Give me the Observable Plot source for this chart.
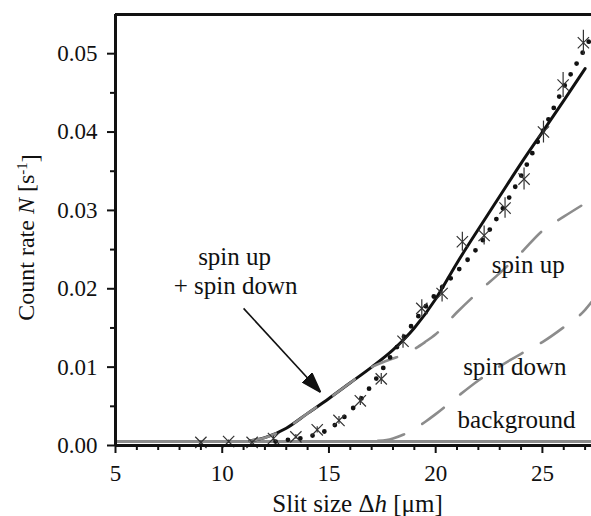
<!DOCTYPE html>
<html>
<head>
<meta charset="utf-8">
<script src="https://cdn.jsdelivr.net/npm/d3@7"></script>
<script src="https://cdn.jsdelivr.net/npm/@observablehq/plot@0.6"></script>
<style>
  html, body { margin: 0; padding: 0; background: #fff; }
  #chart svg { display: block; }
</style>
</head>
<body>
<div id="chart"></div>
<script>
// ---- data ----
// measured count rate (crosses with error bars)
const ptX   = [9.0, 10.3, 11.4, 12.4, 13.45, 14.45, 15.47, 16.47, 17.45, 18.47, 19.35, 20.3, 21.25, 22.27, 23.25, 24.14, 25.05, 25.97, 26.92];
const ptY   = [0.0004, 0.0005, 0.0004, 0.0009, 0.0011, 0.0020, 0.0032, 0.0057, 0.0085, 0.0133, 0.0175, 0.0194, 0.0260, 0.0268, 0.0303, 0.0340, 0.0400, 0.0460, 0.0514];
const ptErr = [0.0002, 0.0002, 0.0002, 0.0003, 0.0003, 0.0004, 0.0005, 0.0006, 0.0007, 0.0009, 0.0011, 0.0011, 0.0012, 0.0012, 0.0013, 0.0014, 0.0014, 0.0016, 0.0016];

// solid black fit: spin up + spin down
const sumX = [11.3, 12, 13, 14, 15, 16, 17, 18, 19, 20, 21, 22, 23, 24, 25, 26, 27];
const sumY = [0.0006, 0.0010, 0.0022, 0.0041, 0.0060, 0.0080, 0.0100, 0.0122, 0.0150, 0.0187, 0.0233, 0.0276, 0.0318, 0.0360, 0.0400, 0.0440, 0.0481];

// gray dashed: spin up
const upX = [11.3, 12, 13, 14, 15, 16, 17, 17.5, 18, 18.5, 19, 19.5, 20, 21, 22, 23, 24, 25, 26, 27, 27.3];
const upY = [0.0006, 0.0010, 0.0022, 0.0041, 0.0060, 0.0080, 0.0100, 0.0106, 0.0111, 0.0116, 0.0123, 0.0132, 0.0142, 0.0170, 0.0196, 0.0220, 0.0246, 0.0274, 0.0292, 0.0309, 0.0314];

// gray dashed: spin down
const downX = [17.3, 17.7, 18, 18.5, 19, 19.5, 20, 21, 22, 23, 24, 25, 26, 27, 27.3];
const downY = [0.0006, 0.0007, 0.0009, 0.0014, 0.0021, 0.0030, 0.0040, 0.0062, 0.0083, 0.0101, 0.0117, 0.0132, 0.0151, 0.0173, 0.0183];

// dotted black curve
const dotX = [12.5, 13, 14, 15, 16, 17, 18, 19, 20, 21, 22, 23, 24, 25, 26, 27, 27.3];
const dotY = [0.0005, 0.0007, 0.0011, 0.0021, 0.0044, 0.0077, 0.0118, 0.0158, 0.0193, 0.0222, 0.0254, 0.0296, 0.0344, 0.0400, 0.0457, 0.0507, 0.0522];

// gray solid: background level
const background = 0.0005;

// axes
const xDomain = [5, 27.3];
const yDomain = [0, 0.055];
const xMajor = [5, 10, 15, 20, 25];
const xMinor = [6, 7, 8, 9, 11, 12, 13, 14, 16, 17, 18, 19, 21, 22, 23, 24, 26, 27];
const yMajor = [0, 0.01, 0.02, 0.03, 0.04, 0.05];
const yMinor = [0.005, 0.015, 0.025, 0.035, 0.045];
const yTickLabels = ["0.00", "0.01", "0.02", "0.03", "0.04", "0.05"];

// annotation labels
const labelText = ["spin up", "+ spin down", "spin up", "spin down", "background"];
const labelX    = [10.58, 10.63, 24.34, 23.71, 23.79];
const labelY    = [0.0241, 0.0203, 0.0230, 0.00996, 0.00323];
// arrow from label to the sum curve
const arrowFrom = [11.0, 0.0175];
const arrowTo   = [14.61, 0.0068];

// ---- build tables ----
const zip = (xs, ys) => xs.map((x, i) => ({x, y: ys[i]}));
const points = ptX.map((x, i) => ({x, y: ptY[i], lo: ptY[i] - ptErr[i], hi: ptY[i] + ptErr[i]}));
const sumRows = zip(sumX, sumY);
const upRows = zip(upX, upY);
const downRows = zip(downX, downY);
const dotRows = zip(dotX, dotY);
const labels = labelText.map((t, i) => ({t, x: labelX[i], y: labelY[i]}));
const arrows = [{x1: arrowFrom[0], y1: arrowFrom[1], x2: arrowTo[0], y2: arrowTo[1]}];

const serif = '"Liberation Serif", "Times New Roman", Times, serif';
const ink = "#111";
const gray = "#8c8c8c";

function arrowHead(color) {
  const m = d3.create("svg:marker")
    .attr("viewBox", "-20 -7 20 14")
    .attr("markerWidth", 20)
    .attr("markerHeight", 14)
    .attr("markerUnits", "userSpaceOnUse")
    .attr("orient", "auto")
    .attr("refX", 0)
    .attr("refY", 0);
  m.append("path").attr("d", "M0,0L-20,-6.5L-20,6.5Z").attr("fill", color);
  return m.node();
}

const plot = Plot.plot({
  width: 591,
  height: 516,
  marginLeft: 115,
  marginRight: 0,
  marginTop: 14,
  marginBottom: 71,
  x: {domain: xDomain},
  y: {domain: yDomain},
  style: {fontFamily: serif, fontSize: "23px", background: "#fff", color: ink, overflow: "visible"},
  marks: [
    Plot.ruleY([background], {stroke: gray, strokeWidth: 3}),
    Plot.line(downRows, {x: "x", y: "y", stroke: gray, strokeWidth: 2.6, strokeDasharray: "27,21", curve: "monotone-x"}),
    Plot.line(sumRows, {x: "x", y: "y", stroke: ink, strokeWidth: 3, curve: "monotone-x"}),
    Plot.line(upRows, {x: "x", y: "y", stroke: gray, strokeWidth: 2.6, strokeDasharray: "27,21", curve: "monotone-x"}),
    Plot.line(dotRows, {x: "x", y: "y", stroke: ink, strokeWidth: 4.8, strokeDasharray: "0,12.5", strokeLinecap: "round", curve: "monotone-x"}),
    Plot.ruleX(points, {x: "x", y1: "lo", y2: "hi", stroke: "#333", strokeWidth: 1.2}),
    Plot.dot(points, {x: "x", y: "y", symbol: "times", r: 5.2, stroke: "#333", strokeWidth: 1.2}),
    Plot.text(labels, {x: "x", y: "y", text: "t", fontSize: 25, fill: ink, textAnchor: "middle", lineAnchor: "middle"}),
    Plot.link(arrows, {x1: "x1", y1: "y1", x2: "x2", y2: "y2", stroke: ink, strokeWidth: 1.6, markerEnd: arrowHead}),
    // axes
    Plot.axisX({ticks: xMajor, tickSize: 8, tickPadding: 11, tickFormat: d => String(d), fontSize: 23, strokeWidth: 2, label: null}),
    Plot.axisX({ticks: xMinor, tickSize: 5, tickFormat: () => "", strokeWidth: 2, label: null}),
    Plot.axisY({ticks: yMajor, tickSize: 8, tickPadding: 10, tickFormat: (d, i) => yTickLabels[i], fontSize: 23, strokeWidth: 2, label: null}),
    Plot.axisY({ticks: yMinor, tickSize: 5, tickFormat: () => "", strokeWidth: 2, label: null}),
    // frame
    Plot.ruleY([yDomain[0]], {stroke: ink, strokeWidth: 3}),
    Plot.ruleY([yDomain[1]], {stroke: ink, strokeWidth: 3}),
    Plot.ruleX([xDomain[0]], {stroke: ink, strokeWidth: 3})
  ]
});

// axis titles with mixed styles
const svg = d3.select(plot);
const xt = svg.append("text")
  .attr("x", 357.5).attr("y", 512)
  .attr("text-anchor", "middle")
  .attr("font-size", 25).attr("fill", ink).attr("font-family", serif);
xt.append("tspan").text("Slit size Δ");
xt.append("tspan").attr("font-style", "italic").text("h");
xt.append("tspan").text(" [μm]");

const yt = svg.append("text")
  .attr("transform", "translate(33.5,237.5) rotate(-90)")
  .attr("text-anchor", "middle")
  .attr("font-size", 24).attr("fill", ink).attr("font-family", serif);
yt.append("tspan").text("Count rate ");
yt.append("tspan").attr("font-style", "italic").text("N");
yt.append("tspan").text(" [s");
yt.append("tspan").attr("font-size", 15).attr("dy", "-0.45em").text("-1");
yt.append("tspan").attr("dy", "0.45em").text("]");

document.getElementById("chart").appendChild(plot);
</script>
</body>
</html>
